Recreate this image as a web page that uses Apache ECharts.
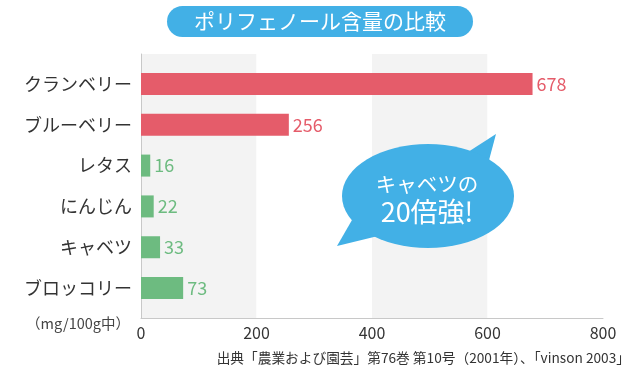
<!DOCTYPE html>
<html>
<head>
<meta charset="utf-8">
<script src="https://cdn.jsdelivr.net/npm/echarts@6/dist/echarts.min.js"></script>
<style>
html,body{margin:0;padding:0;background:#fff;}
#chart{width:640px;height:373px;}
</style>
</head>
<body>
<div id="chart"></div>
<script>
var categories = ['クランベリー', 'ブルーベリー', 'レタス', 'にんじん', 'キャベツ', 'ブロッコリー'];
var values = [678, 256, 16, 22, 33, 73];
var xTicks = [0, 200, 400, 600, 800];
var titleText = 'ポリフェノール含量の比較';
var unitText = '（mg/100g中）';
var sourceText = '出典「農業および園芸」第76巻 第10号（2001年）、「vinson 2003」';
var bubbleLine1 = 'キャベツの';
var bubbleLine2 = '20倍強!';

var RED = '#e55c6a';
var GREEN = '#6dbb80';
var BLUE = '#42b0e6';
var FONT = '"Noto Sans CJK JP", "Noto Sans", sans-serif';

var chart = echarts.init(document.getElementById('chart'), null, {renderer: 'canvas'});
var option = {
  backgroundColor: '#fff',
  animation: false,
  textStyle: {fontFamily: FONT},
  grid: [
    {left: 141, right: 37, top: 54, bottom: 55},
    {left: 141, right: 37, top: 63.5, height: 245}
  ],
  xAxis: [
    {
      gridIndex: 0, type: 'value', min: xTicks[0], max: xTicks[xTicks.length - 1], interval: 200,
      splitArea: {show: true, areaStyle: {color: ['#f3f3f3', '#ffffff']}},
      splitLine: {show: false},
      axisLine: {show: true, lineStyle: {color: '#c8c8c8', width: 1}},
      axisTick: {show: false},
      axisLabel: {fontSize: 16, color: '#333', margin: 7, fontFamily: FONT}
    },
    {gridIndex: 1, type: 'value', min: xTicks[0], max: xTicks[xTicks.length - 1], show: false}
  ],
  yAxis: [
    {
      gridIndex: 0, type: 'value', min: 0, max: 1,
      axisLine: {show: true, lineStyle: {color: '#c8c8c8', width: 1}},
      axisTick: {show: false}, axisLabel: {show: false}, splitLine: {show: false}
    },
    {
      gridIndex: 1, type: 'category', inverse: true, data: categories,
      axisLine: {show: false}, axisTick: {show: false},
      axisLabel: {fontSize: 18, color: '#333', margin: 9, fontFamily: FONT}
    }
  ],
  series: [{
    type: 'bar',
    xAxisIndex: 1, yAxisIndex: 1,
    barWidth: 22,
    data: values,
    itemStyle: {
      color: function (p) { return p.dataIndex < 2 ? RED : GREEN; }
    },
    label: {
      show: true, position: 'right', distance: 4, fontSize: 18, fontFamily: FONT,
      color: 'inherit'
    }
  }],
  graphic: [
    {type: 'rect', shape: {x: 167, y: 6, width: 306, height: 31, r: 15.5}, style: {fill: BLUE}},
    {type: 'text', x: 320, y: 21.5, style: {text: titleText, fill: '#fff', fontSize: 21, fontFamily: FONT, align: 'center', verticalAlign: 'middle'}},
    {type: 'text', x: 130, y: 323, style: {text: unitText, fill: '#444', fontSize: 14.5, fontFamily: FONT, align: 'right', verticalAlign: 'middle'}},
    {type: 'text', x: 630, y: 358, style: {text: sourceText, fill: '#333', fontSize: 13.7, fontFamily: FONT, align: 'right', verticalAlign: 'middle'}},
    {type: 'polygon', shape: {points: [[468, 152], [496, 134], [488, 164]]}, style: {fill: BLUE}, z: 100},
    {type: 'polygon', shape: {points: [[352, 220], [337, 246], [378, 236]]}, style: {fill: BLUE}, z: 100},
    {type: 'circle', x: 428, y: 196, scaleX: 86 / 52, scaleY: 1, shape: {cx: 0, cy: 0, r: 52}, style: {fill: BLUE}, z: 100},
    {type: 'text', x: 427, y: 184, z: 101, style: {text: bubbleLine1, fill: '#fff', fontSize: 20.5, fontFamily: FONT, align: 'center', verticalAlign: 'middle'}},
    {type: 'text', x: 427, y: 212, z: 101, style: {text: bubbleLine2, fill: '#fff', fontSize: 27, fontFamily: FONT, align: 'center', verticalAlign: 'middle'}}
  ]
};
chart.setOption(option);
</script>
</body>
</html>
